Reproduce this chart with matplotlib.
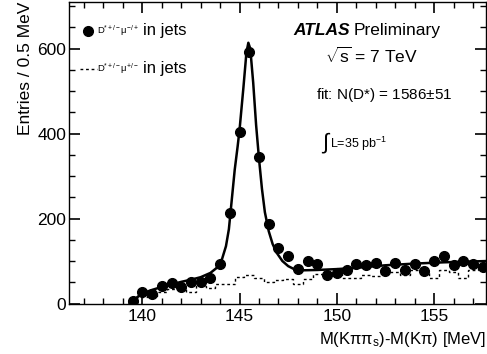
import matplotlib
matplotlib.use("Agg")
import matplotlib.pyplot as plt
import numpy as np

plt.rcParams["font.family"] = ["Liberation Sans", "DejaVu Sans"]
plt.rcParams["mathtext.fontset"] = "custom"
plt.rcParams["mathtext.rm"] = "Liberation Sans"
plt.rcParams["mathtext.it"] = "Liberation Sans:italic"
plt.rcParams["mathtext.bf"] = "Liberation Sans:bold"

# right-sign D* mu pairs (points), 0.5 MeV bins
dm_points = [139.5, 140.0, 140.5, 141.0, 141.5, 142.0, 142.5, 143.0, 143.5, 144.0,
             144.5, 145.0, 145.5, 146.0, 146.5, 147.0, 147.5, 148.0, 148.5, 149.0,
             149.5, 150.0, 150.5, 151.0, 151.5, 152.0, 152.5, 153.0, 153.5, 154.0,
             154.5, 155.0, 155.5, 156.0, 156.5, 157.0, 157.5]
entries_rs = [7, 28, 22, 42, 49, 39, 50, 50, 61, 93,
              212, 404, 593, 346, 188, 130, 113, 81, 100, 92,
              67, 71, 79, 92, 90, 96, 77, 96, 79, 94,
              77, 100, 113, 91, 99, 94, 87]

# wrong-sign D* mu pairs (dotted histogram)
ws_edges = np.arange(139.25, 158.0, 0.5)
entries_ws = [5, 15, 18, 28, 33, 36, 28, 42, 36, 47,
              45, 63, 68, 60, 50, 55, 58, 45, 58, 70,
              67, 70, 61, 61, 68, 65, 75, 75, 68, 79,
              75, 61, 79, 75, 59, 79, 83]

# fit curve
fit_x = [139.36, 139.6, 140.0, 140.5, 141.0, 141.5, 142.0, 142.5, 143.0, 143.5,
         143.8, 144.1, 144.3, 144.45, 144.6, 144.75, 144.9, 145.0, 145.2, 145.35,
         145.45, 145.55, 145.7, 145.85, 146.0, 146.15, 146.3, 146.5, 146.7, 146.9,
         147.2, 147.5, 147.8, 148.1, 149.0, 150.0, 151.0, 152.5, 154.0, 155.5, 157.7]
fit_y = [0, 10, 24, 32, 39, 45, 51, 56, 62, 72,
         83, 105, 135, 175, 245, 315, 370, 410, 510, 590,
         614, 600, 520, 420, 340, 270, 215, 170, 140, 120,
         100, 88, 81, 78, 79, 81, 84, 90, 94, 97, 100]

fig, ax = plt.subplots(figsize=(4.87, 3.54), dpi=100)
fig.subplots_adjust(left=69 / 487, bottom=1 - 303.5 / 354, right=0.998, top=1 - 2 / 354)

ax.stairs(entries_ws, ws_edges, baseline=None, color="black", lw=1.0,
          linestyle=(0, (2, 2)))
ax.plot(fit_x, fit_y, color="black", lw=1.8)
ax.plot(dm_points, entries_rs, "o", color="black", markersize=7)

ax.set_xlim(136.23, 157.67)
ax.set_ylim(0, 710)
ax.set_xticks([140, 145, 150, 155])
ax.set_xticks(np.arange(137, 158, 1), minor=True)
ax.set_yticks([0, 200, 400, 600])
ax.set_yticks(np.arange(0, 710, 50), minor=True)
ax.tick_params(axis="both", which="both", direction="in", top=True, right=True,
               labelsize=12.5, colors="black")
ax.tick_params(axis="both", which="major", length=8, width=1.2)
ax.tick_params(axis="both", which="minor", length=4.5, width=1.0)
ax.tick_params(axis="x", which="major", pad=4)
ax.tick_params(axis="y", which="major", pad=2)
for s in ax.spines.values():
    s.set_linewidth(1.0)

ax.set_ylabel("Entries / 0.5 MeV", loc="top", fontsize=12.5, labelpad=3)
ax.set_xlabel(r"M(K$\mathregular{\pi\pi_s}$)-M(K$\mathregular{\pi}$) [MeV]",
              loc="right", fontsize=12, labelpad=4)

# legend drawn by hand
tr = ax.transAxes
ax.plot([0.046], [0.905], "o", color="black", markersize=7, transform=tr, clip_on=False)
ax.plot([0.026, 0.066], [0.778, 0.778], color="black", lw=1.0,
        linestyle=(0, (2, 2)), transform=tr)
ax.text(0.068, 0.905, r"D$^{*+/-}$$\mathregular{\mu}^{-/+}$", fontsize=6.8,
        transform=tr, va="center")
ax.text(0.068, 0.778, r"D$^{*+/-}$$\mathregular{\mu}^{+/-}$", fontsize=6.8,
        transform=tr, va="center")
ax.text(0.178, 0.905, "in jets", fontsize=12, transform=tr, va="center")
ax.text(0.178, 0.778, "in jets", fontsize=12, transform=tr, va="center")

ax.text(0.538, 0.905, "ATLAS", fontsize=12.5, fontweight="bold", style="italic",
        transform=tr, va="center")
ax.text(0.683, 0.905, "Preliminary", fontsize=12.5, transform=tr, va="center")
ax.text(0.615, 0.82, r"$\sqrt{\mathregular{s}}$ = 7 TeV", fontsize=12.5,
        transform=tr, va="center")
ax.text(0.593, 0.69, r"fit: N(D*) = 1586$\pm$51", fontsize=11,
        transform=tr, va="center")
ax.text(0.605, 0.53, r"$\int$", fontsize=16, transform=tr, va="center")
ax.text(0.627, 0.53, r"L=35 pb$^{-1}$", fontsize=9, transform=tr, va="center")

fig.savefig("out.png", dpi=100)
